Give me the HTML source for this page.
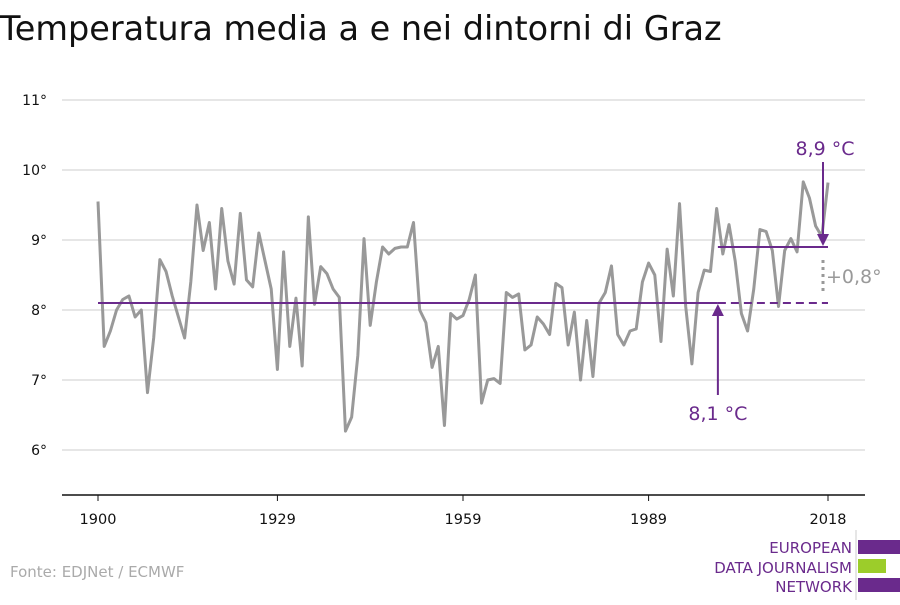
<!DOCTYPE html>
<html><head><meta charset="utf-8"><style>
body{margin:0;background:#fff;font-family:"Liberation Sans","DejaVu Sans",sans-serif}
svg text{font-family:"DejaVu Sans","Liberation Sans",sans-serif}
</style></head><body>
<svg width="900" height="600">
<text x="0" y="40" font-size="33.5" fill="#111" style="font-family:'DejaVu Sans',sans-serif">Temperatura media a e nei dintorni di Graz</text>
<g id="grid"></g><g id="plot"></g>
<text x="10" y="577" font-size="15" fill="#aaa">Fonte: EDJNet / ECMWF</text>
<g font-size="15" fill="#6a2a8c" text-anchor="end">
<line x1="856" y1="530" x2="856" y2="600" stroke="#ccc"/>
<text x="852" y="553">EUROPEAN</text><text x="852" y="573">DATA JOURNALISM</text><text x="852" y="592">NETWORK</text>
<rect x="858" y="540" width="42" height="14" fill="#6a2a8c"/><rect x="858" y="559" width="28" height="14" fill="#9ccd2a"/><rect x="858" y="578" width="42" height="14" fill="#6a2a8c"/>
</g>
</svg>
<script>
const startYear=1900;
const temps=[9.55,7.48,7.7,8.0,8.15,8.2,7.9,8.0,6.82,7.6,8.72,8.55,8.2,7.9,7.6,8.4,9.5,8.85,9.25,8.3,9.45,8.7,8.37,9.38,8.43,8.33,9.1,8.7,8.3,7.15,8.83,7.48,8.17,7.2,9.33,8.08,8.62,8.52,8.3,8.18,6.27,6.47,7.35,9.02,7.78,8.4,8.9,8.8,8.88,8.9,8.9,9.25,8.0,7.82,7.18,7.48,6.35,7.95,7.87,7.92,8.15,8.5,6.67,7.0,7.02,6.95,8.25,8.18,8.23,7.43,7.5,7.9,7.8,7.65,8.38,8.32,7.5,7.97,7.0,7.85,7.05,8.1,8.25,8.63,7.65,7.5,7.7,7.73,8.4,8.67,8.5,7.55,8.87,8.2,9.52,8.05,7.23,8.25,8.57,8.55,9.45,8.8,9.22,8.7,7.95,7.7,8.3,9.15,9.12,8.85,8.05,8.85,9.02,8.83,9.83,9.6,9.2,9.05,9.82];
const yTicks=[6,7,8,9,10,11];
const xTicks=[1900,1929,1959,1989,2018];
const baseMean=8.1, recentMean=8.9, splitYear=2000.2;
const NS="http://www.w3.org/2000/svg";
const X=y=>98+(y-1900)*730/118, Y=v=>310-(v-8)*70;
function mk(t,a,p){const e=document.createElementNS(NS,t);for(const k in a)e.setAttribute(k,a[k]);p.appendChild(e);return e;}
const grid=document.getElementById('grid'),plot=document.getElementById('plot');
yTicks.forEach(t=>{const l=mk('line',{x1:62,x2:865,y1:Y(t),y2:Y(t),stroke:'#ddd','stroke-width':1.5},grid);


const tx=mk('text',{x:47,y:Y(t)+5,'font-size':14,'text-anchor':'end',fill:'#111'},grid);tx.textContent=t+'°';

});
const ax=mk('line',{x1:62,x2:865,y1:495,y2:495,stroke:'#111','stroke-width':1.5},grid);


xTicks.forEach(t=>{const l=mk('line',{x1:X(t),x2:X(t),y1:495,y2:501,stroke:'#111'},grid);


const tx=mk('text',{x:X(t),y:524,'font-size':14.5,'text-anchor':'middle',fill:'#111'},grid);tx.textContent=t;

});
const line=mk('polyline',{points:temps.map((v,i)=>X(startYear+i)+','+Y(v)).join(' '),fill:'none',stroke:'#999','stroke-width':3,'stroke-linejoin':'round'},plot);


const endYear=startYear+temps.length-1;
const m1=mk('line',{x1:X(1900),x2:X(splitYear),y1:Y(baseMean),y2:Y(baseMean),stroke:'#6a2a8c','stroke-width':2},plot);


const m2=mk('line',{x1:X(splitYear),x2:X(endYear),y1:Y(baseMean),y2:Y(baseMean),stroke:'#6a2a8c','stroke-width':2,'stroke-dasharray':'8,5'},plot);


const m3=mk('line',{x1:X(splitYear),x2:X(endYear),y1:Y(recentMean),y2:Y(recentMean),stroke:'#6a2a8c','stroke-width':2},plot);


const dx=X(endYear)-5;
const d=mk('line',{x1:dx,x2:dx,y1:Y(recentMean)+13,y2:Y(baseMean)-8,stroke:'#999','stroke-width':3,'stroke-dasharray':'3,4'},plot);


const dt=mk('text',{x:dx+3,y:(Y(recentMean)+Y(baseMean))/2+8,'font-size':19,fill:'#999'},plot);dt.textContent='+0,8°';


const a1x=X(splitYear);
const a1=mk('line',{x1:a1x,x2:a1x,y1:395,y2:Y(baseMean)+12,stroke:'#6a2a8c','stroke-width':2},plot);


mk('polygon',{points:`${a1x-6},${Y(baseMean)+13} ${a1x+6},${Y(baseMean)+13} ${a1x},${Y(baseMean)+1}`,fill:'#6a2a8c'},plot);
const l1=mk('text',{x:a1x,y:420,'font-size':19,'text-anchor':'middle',fill:'#6a2a8c'},plot);l1.textContent='8,1 °C';


const a2=mk('line',{x1:dx,x2:dx,y1:162,y2:Y(recentMean)-12,stroke:'#6a2a8c','stroke-width':2},plot);


mk('polygon',{points:`${dx-6},${Y(recentMean)-13} ${dx+6},${Y(recentMean)-13} ${dx},${Y(recentMean)-1}`,fill:'#6a2a8c'},plot);
const l2=mk('text',{x:dx+2,y:155,'font-size':19,'text-anchor':'middle',fill:'#6a2a8c'},plot);l2.textContent='8,9 °C';


</script>
</body></html>
